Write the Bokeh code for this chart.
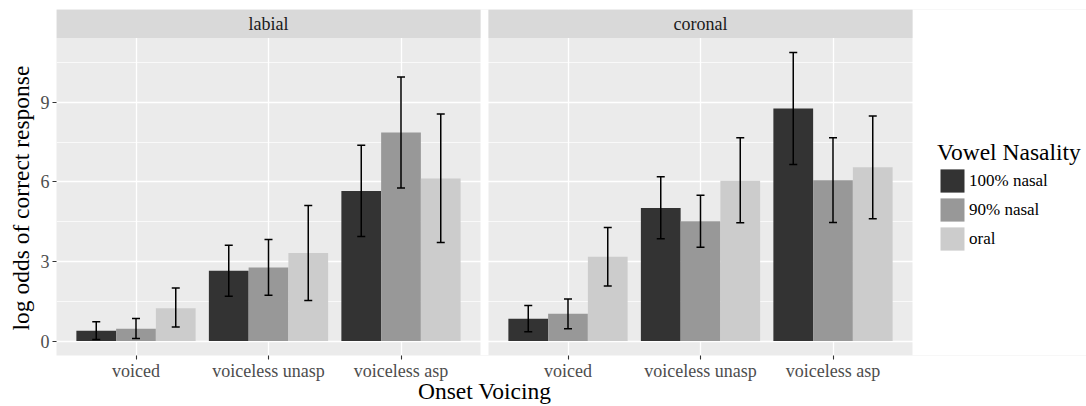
from bokeh.plotting import figure
from bokeh.models import (ColumnDataSource, FixedTicker, Whisker, TeeHead,
                          BoxAnnotation, Label, Legend, LegendItem, Range1d, Title)
from bokeh.embed import file_html
from bokeh.resources import INLINE

# ---------------- data ----------------
places = ["labial", "coronal"]
voicings = ["voiced", "voiceless unasp", "voiceless asp"]
nasalities = ["100% nasal", "90% nasal", "oral"]
fill_colors = ["#333333", "#989898", "#CCCCCC"]

labial_mean_100 = [0.39, 2.65, 5.66]
labial_lo_100 = [0.06, 1.69, 3.94]
labial_hi_100 = [0.73, 3.61, 7.38]
labial_mean_90 = [0.46, 2.77, 7.86]
labial_lo_90 = [0.10, 1.73, 5.77]
labial_hi_90 = [0.85, 3.83, 9.95]
labial_mean_oral = [1.24, 3.32, 6.13]
labial_lo_oral = [0.53, 1.53, 3.72]
labial_hi_oral = [2.00, 5.11, 8.56]

coronal_mean_100 = [0.84, 5.02, 8.77]
coronal_lo_100 = [0.35, 3.86, 6.66]
coronal_hi_100 = [1.34, 6.19, 10.88]
coronal_mean_90 = [1.03, 4.52, 6.06]
coronal_lo_90 = [0.46, 3.54, 4.47]
coronal_hi_90 = [1.59, 5.50, 7.66]
coronal_mean_oral = [3.18, 6.04, 6.55]
coronal_lo_oral = [2.08, 4.46, 4.61]
coronal_hi_oral = [4.28, 7.66, 8.48]

y_ticks = [0, 3, 6, 9]
y_minor = [1.5, 4.5, 7.5, 10.5]

x_title = "Onset Voicing"
y_title = "log odds of correct response"
legend_title = "Vowel Nasality"

means = {
    "labial": [labial_mean_100, labial_mean_90, labial_mean_oral],
    "coronal": [coronal_mean_100, coronal_mean_90, coronal_mean_oral],
}
lows = {
    "labial": [labial_lo_100, labial_lo_90, labial_lo_oral],
    "coronal": [coronal_lo_100, coronal_lo_90, coronal_lo_oral],
}
highs = {
    "labial": [labial_hi_100, labial_hi_90, labial_hi_oral],
    "coronal": [coronal_hi_100, coronal_hi_90, coronal_hi_oral],
}

# ---------------- layout ----------------
W, H = 1086, 406
FL, PR, FT, FB = 56, 912, 9, 355   # PR = right edge of the right panel
GAP_PX = 8
STRIP_PX = 28.5
FONT = "Liberation Serif"
TITLE_SIZE = "23.5px"

panel_px = (PR - FL - GAP_PX) / 2.0
n_cat = len(voicings)
panel_units = n_cat - 1 + 2 * 0.6
px_per_x = panel_px / panel_units
gap_u = GAP_PX / px_per_x
panel_offsets = [k * (panel_units + gap_u) for k in range(len(places))]
x_start = 1 - 0.6
x_panels_end = x_start + 2 * panel_units + gap_u
x_end = x_start + (W - FL) / px_per_x   # frame runs to the canvas edge

all_lo = [v for pl in places for arr in lows[pl] for v in arr] + [0]
all_hi = [v for pl in places for arr in highs[pl] for v in arr]
dmin, dmax = min(all_lo), max(all_hi)
span = dmax - dmin
y_lo = dmin - 0.05 * span
y_hi = dmax + 0.05 * span
panel_h_px = (FB - FT) - STRIP_PX
u_per_px = (y_hi - y_lo) / panel_h_px
y_end = y_hi + STRIP_PX * u_per_px

p = figure(width=W, height=H, output_backend="svg", toolbar_location=None,
           x_range=Range1d(x_start, x_end), y_range=Range1d(y_lo, y_end),
           min_border_left=FL, min_border_right=0,
           min_border_top=FT, min_border_bottom=H - FB)
p.background_fill_color = "#EBEBEB"
p.border_fill_color = "white"
p.outline_line_color = None

bar_w = 0.9 / len(nasalities)
legend_items = []
for j, nas in enumerate(nasalities):
    xs, tops, los, his = [], [], [], []
    for k, pl in enumerate(places):
        for i in range(n_cat):
            xs.append(panel_offsets[k] + (i + 1) + (j - 1) * bar_w)
            tops.append(means[pl][j][i])
            los.append(lows[pl][j][i])
            his.append(highs[pl][j][i])
    src = ColumnDataSource(dict(x=xs, top=tops, lo=los, hi=his))
    r = p.vbar(x="x", top="top", bottom=0, width=bar_w, source=src,
               fill_color=fill_colors[j], line_color=None)
    legend_items.append(LegendItem(label=nas, renderers=[r]))
    w = Whisker(source=src, base="x", upper="hi", lower="lo",
                line_color="black", line_width=1.5, level="overlay",
                upper_head=TeeHead(size=8, line_width=1.5, line_color="black"),
                lower_head=TeeHead(size=8, line_width=1.5, line_color="black"))
    p.add_layout(w)

# ticks / grids
x_tick_pos = [panel_offsets[k] + (i + 1) for k in range(len(places)) for i in range(n_cat)]
x_labels = {}
for k in range(len(places)):
    for i in range(n_cat):
        x_labels[panel_offsets[k] + (i + 1)] = voicings[i]
p.xaxis.ticker = FixedTicker(ticks=x_tick_pos)
p.xaxis.major_label_overrides = x_labels
p.yaxis.ticker = FixedTicker(ticks=y_ticks, minor_ticks=y_minor)

p.xgrid.grid_line_color = "white"
p.xgrid.grid_line_width = 1.3
p.ygrid.grid_line_color = "white"
p.ygrid.grid_line_width = 1.3
p.ygrid.minor_grid_line_color = "white"
p.ygrid.minor_grid_line_width = 0.7

for ax in (p.xaxis[0], p.yaxis[0]):
    ax.axis_line_color = None
    ax.major_tick_line_color = "#333333"
    ax.major_tick_line_width = 1.1
    ax.major_tick_out = 4
    ax.major_tick_in = 0
    ax.minor_tick_line_color = None
    ax.major_label_text_font = FONT
    ax.major_label_text_font_size = "18px"
    ax.major_label_text_color = "#4D4D4D"

p.xaxis.major_label_standoff = 1
p.yaxis.major_label_standoff = 3

# axis titles placed like ggplot's (centred on the panels, not the frame)
x_title_w = 133
p.add_layout(Title(text=x_title, align="left", vertical_align="top",
                   offset=(PR + FL) / 2 - FL - x_title_w / 2, standoff=-11,
                   text_font=FONT, text_font_size=TITLE_SIZE,
                   text_font_style="normal", text_color="black"), "below")
p.add_layout(Title(text=y_title, align="left", offset=FB - 330, standoff=8,
                   text_font=FONT, text_font_size=TITLE_SIZE,
                   text_font_style="normal", text_color="black",
                   text_line_height=0.9), "left")

# blank area right of the panels
p.add_layout(BoxAnnotation(left=x_panels_end, right=x_end + 5, fill_color="white",
                           fill_alpha=1, line_color=None))
# gap between panels
p.add_layout(BoxAnnotation(left=x_start + panel_units, right=x_start + panel_units + gap_u,
                           fill_color="white", fill_alpha=1, line_color=None))
# strips
for k, pl in enumerate(places):
    left = x_start + panel_offsets[k]
    right = left + panel_units
    p.add_layout(BoxAnnotation(left=left, right=right, bottom=y_hi,
                               fill_color="#D9D9D9", fill_alpha=1, line_color=None))
for k, pl in enumerate(places):
    left = x_start + panel_offsets[k]
    p.add_layout(Label(x=left + panel_units / 2, y=(y_hi + y_end) / 2, text=pl,
                       text_align="center", text_baseline="middle",
                       text_font=FONT, text_font_size="18px", text_color="#1A1A1A"))

legend = Legend(items=legend_items, title=legend_title,
                location=(937 - FL, FB - 253),
                padding=0, margin=0, spacing=-3,
                glyph_width=30, glyph_height=29, label_height=29,
                label_standoff=2, title_standoff=-6,
                border_line_color=None, background_fill_alpha=0)
legend.title_text_font = FONT
legend.title_text_font_size = TITLE_SIZE
legend.title_text_font_style = "normal"
legend.title_text_color = "black"
legend.label_text_font = FONT
legend.label_text_font_size = "17px"
legend.label_text_color = "black"
p.add_layout(legend)

open("out.html", "w").write(file_html(p, INLINE))
